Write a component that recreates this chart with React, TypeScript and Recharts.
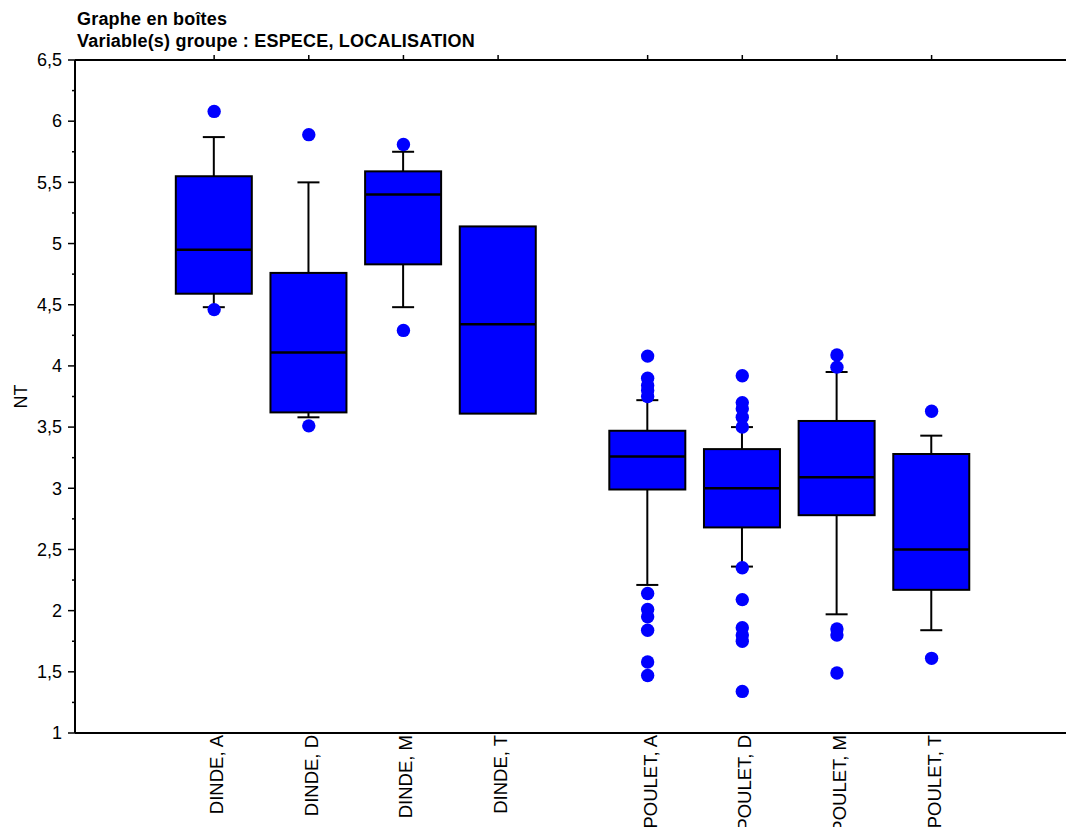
import React from 'react'
import {
  ComposedChart, Bar, Scatter, XAxis, YAxis,
} from 'recharts'

// Graphe en boîtes : NT selon ESPECE x LOCALISATION

const CATEGORIES = [
  'DINDE, A', 'DINDE, D', 'DINDE, M', 'DINDE, T',
  'POULET, A', 'POULET, D', 'POULET, M', 'POULET, T',
]

const WHISKER_LOW = [4.48, 3.58, 4.48, 3.61, 2.21, 2.36, 1.97, 1.84]
const Q1 = [4.59, 3.62, 4.83, 3.61, 2.99, 2.68, 2.78, 2.17]
const MEDIAN = [4.95, 4.11, 5.40, 4.34, 3.26, 3.00, 3.09, 2.50]
const Q3 = [5.55, 4.76, 5.59, 5.14, 3.47, 3.32, 3.55, 3.28]
const WHISKER_HIGH = [5.87, 5.50, 5.75, 5.14, 3.72, 3.50, 3.95, 3.43]

const OUTLIERS = [
  [6.08, 4.46],
  [5.89, 3.51],
  [5.81, 4.29],
  [],
  [4.08, 3.90, 3.84, 3.80, 3.75, 2.14, 2.01, 1.95, 1.84, 1.58, 1.47],
  [3.92, 3.70, 3.65, 3.58, 3.50, 2.35, 2.09, 1.86, 1.80, 1.75, 1.34],
  [4.09, 3.99, 1.85, 1.80, 1.49],
  [3.63, 1.61],
]

const Y_TICKS = [1, 1.25, 1.5, 1.75, 2, 2.25, 2.5, 2.75, 3, 3.25, 3.5, 3.75, 4, 4.25, 4.5, 4.75, 5, 5.25, 5.5, 5.75, 6, 6.25, 6.5]

const BLUE = '#0000ff'
const FONT = 'Arial, "Liberation Sans", sans-serif'
const GROUP_GAP = 0.58 // espace supplémentaire entre DINDE et POULET

// position sur l'axe x : index + décalage du groupe
const posOf = (i: number) => i + 1 + (CATEGORIES[i].startsWith('POULET') ? GROUP_GAP : 0)
const POSITIONS = CATEGORIES.map((_, i) => posOf(i))

const boxData = CATEGORIES.map((name, i) => ({
  name,
  pos: POSITIONS[i],
  lo: WHISKER_LOW[i],
  q1: Q1[i],
  med: MEDIAN[i],
  q3: Q3[i],
  hi: WHISKER_HIGH[i],
}))

const outlierData = OUTLIERS.flatMap((vals, i) => vals.map(v => ({ pos: POSITIONS[i], v })))

// boîte + moustaches dessinées à partir du rectangle q1..q3 fourni par Recharts
function BoxShape(props: any) {
  const { x, y, width, height, payload } = props
  if (height == null || !payload) return null
  const { lo, q1, med, q3, hi } = payload
  const unit = height / (q3 - q1)
  const yOf = (v: number) => y + (q3 - v) * unit
  const cx = x + width / 2
  const cap = 11
  return (
    <g>
      {hi > q3 && (
        <>
          <line x1={cx} x2={cx} y1={yOf(hi)} y2={y} stroke="#000" strokeWidth={2} />
          <line x1={cx - cap} x2={cx + cap} y1={yOf(hi)} y2={yOf(hi)} stroke="#000" strokeWidth={2} />
        </>
      )}
      {lo < q1 && (
        <>
          <line x1={cx} x2={cx} y1={y + height} y2={yOf(lo)} stroke="#000" strokeWidth={2} />
          <line x1={cx - cap} x2={cx + cap} y1={yOf(lo)} y2={yOf(lo)} stroke="#000" strokeWidth={2} />
        </>
      )}
      <rect x={x} y={y} width={width} height={height} fill={BLUE} stroke="#000" strokeWidth={2} />
      <line x1={x} x2={x + width} y1={yOf(med)} y2={yOf(med)} stroke="#000" strokeWidth={2.5} />
    </g>
  )
}

function Dot(props: any) {
  const { cx, cy } = props
  return <circle cx={cx} cy={cy} r={6.7} fill={BLUE} />
}

function YTick(props: any) {
  const { x, y, payload } = props
  const v = payload.value
  const major = Math.abs(v * 2 - Math.round(v * 2)) < 1e-6
  return (
    <g>
      <line x1={major ? x - 7 : x - 3} x2={x} y1={y} y2={y} stroke="#000" strokeWidth={1.5} />
      {major && (
        <text x={x - 13} y={y} dy="0.35em" textAnchor="end" fontSize={18} fill="#000" fontFamily={FONT}>
          {String(v).replace('.', ',')}
        </text>
      )}
    </g>
  )
}

function XTick(props: any) {
  const { x, y, index } = props
  return (
    <text
      transform={`translate(${x + 9},${y + 2}) rotate(-90)`}
      textAnchor="end"
      fontSize={18.5}
      fill="#000"
      fontFamily={FONT}
    >
      {CATEGORIES[index]}
    </text>
  )
}

export default function App() {
  return (
    <div style={{ position: 'absolute', left: 0, top: 0, width: 1066, height: 827, background: '#fff' }}>
      <div
        style={{
          position: 'absolute', left: 77, top: 9, fontFamily: FONT, fontWeight: 'bold',
          fontSize: 18, lineHeight: '21.5px', letterSpacing: 0.2, color: '#000', whiteSpace: 'nowrap',
        }}
      >
        <div>Graphe en boîtes</div>
        <div>Variable(s) groupe : ESPECE, LOCALISATION</div>
      </div>
      <ComposedChart
        width={1066}
        height={827}
        data={boxData}
        margin={{ top: 50, right: 0, bottom: 0, left: 0 }}
      >
        <XAxis
          xAxisId="top"
          orientation="top"
          type="number"
          dataKey="pos"
          domain={[-0.47, 10]}
          allowDataOverflow
          ticks={POSITIONS}
          interval={0}
          height={10}
          axisLine={{ stroke: '#000', strokeWidth: 2 }}
          tickLine={{ stroke: '#000', strokeWidth: 1.5 }}
          tickSize={5}
          tick={() => <g />}
        />
        <XAxis
          type="number"
          dataKey="pos"
          domain={[-0.47, 10]}
          allowDataOverflow
          ticks={POSITIONS}
          interval={0}
          height={94}
          axisLine={{ stroke: '#000', strokeWidth: 2 }}
          tickLine={false}
          tickSize={0}
          tickMargin={0}
          tick={<XTick />}
        />
        <YAxis
          type="number"
          domain={[1, 6.5]}
          allowDataOverflow
          ticks={Y_TICKS}
          interval={0}
          width={75}
          axisLine={{ stroke: '#000', strokeWidth: 2 }}
          tickLine={false}
          tickSize={0}
          tickMargin={0}
          tick={<YTick />}
          label={({ viewBox }: any) => (
            <text
              transform={`translate(${viewBox.x + 27},${viewBox.y + viewBox.height / 2}) rotate(-90)`}
              textAnchor="middle"
              fontSize={18}
              fill="#000"
              fontFamily={FONT}
            >
              NT
            </text>
          )}
        />
        <Bar
          dataKey={(d: any) => [d.q1, d.q3]}
          barSize={76}
          shape={<BoxShape />}
          isAnimationActive={false}
        />
        <Scatter
          data={outlierData}
          dataKey="v"
          shape={<Dot />}
          isAnimationActive={false}
        />
      </ComposedChart>
    </div>
  )
}
